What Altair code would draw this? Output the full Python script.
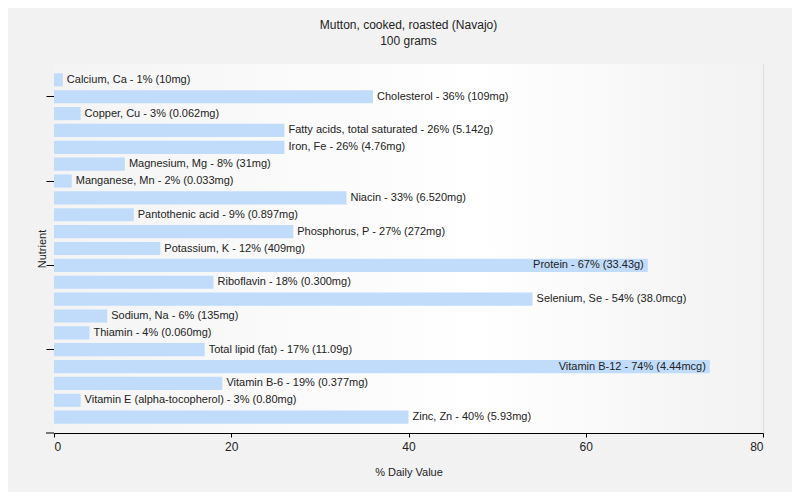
import altair as alt
import pandas as pd

nutrients = [
    "Calcium, Ca", "Cholesterol", "Copper, Cu", "Fatty acids, total saturated",
    "Iron, Fe", "Magnesium, Mg", "Manganese, Mn", "Niacin", "Pantothenic acid",
    "Phosphorus, P", "Potassium, K", "Protein", "Riboflavin", "Selenium, Se",
    "Sodium, Na", "Thiamin", "Total lipid (fat)", "Vitamin B-12", "Vitamin B-6",
    "Vitamin E (alpha-tocopherol)", "Zinc, Zn",
]
daily_pct = [1, 36, 3, 26, 26, 8, 2, 33, 9, 27, 12, 67, 18, 54, 6, 4, 17, 74, 19, 3, 40]
amounts = [
    "10mg", "109mg", "0.062mg", "5.142g", "4.76mg", "31mg", "0.033mg", "6.520mg",
    "0.897mg", "272mg", "409mg", "33.43g", "0.300mg", "38.0mcg", "135mg", "0.060mg",
    "11.09g", "4.44mcg", "0.377mg", "0.80mg", "5.93mg",
]
tick_rows = ["Cholesterol", "Manganese, Mn", "Protein", "Total lipid (fat)"]
x_ticks = [0, 20, 40, 60, 80]

df = pd.DataFrame({"nutrient": nutrients, "pct": daily_pct, "amount": amounts})
df["label"] = df["nutrient"] + " - " + df["pct"].astype(str) + "% (" + df["amount"] + ")"

FONT = "Liberation Sans"
W, H = 709, 369

y_enc = alt.Y(
    "nutrient:N", sort=nutrients, title="Nutrient",
    scale=alt.Scale(paddingInner=0.22, paddingOuter=0.55),
    axis=alt.Axis(values=tick_rows, labels=False, tickSize=8, domainColor="#000",
                  tickColor="#000", titleFont=FONT, titleFontSize=11,
                  titleFontWeight="normal", titleColor="#222",
                  titleAngle=-90, titleX=-12, titleY=H / 2,
                  titleAlign="center", titleBaseline="middle"),
)
x_enc = alt.X(
    "pct:Q", title="% Daily Value",
    scale=alt.Scale(domain=[0, 80], nice=False),
    axis=alt.Axis(values=x_ticks, grid=True, gridColor="#dddddd", domainColor="#000",
                  tickColor="#000", tickSize=4, labelFont=FONT, labelFontSize=12,
                  labelColor="#222", labelPadding=4, titleFont=FONT, titleFontSize=11,
                  titleFontWeight="normal", titleColor="#222", titlePadding=14),
)

bg = alt.Chart(pd.DataFrame({"a": [0]})).mark_rect(
    color=alt.LinearGradient(gradient="linear", x1=0, x2=1, y1=0, y2=0,
                             stops=[alt.GradientStop(offset=0, color="#f4f4f4"),
                                    alt.GradientStop(offset=0.6, color="#ffffff"),
                                    alt.GradientStop(offset=1, color="#f2f2f2")])
).encode(x=alt.value(0), x2=alt.value(W), y=alt.value(0), y2=alt.value(H))

base = alt.Chart(df)
bars = base.mark_bar(color="#c0dcfa").encode(x=x_enc, y=y_enc)
text_out = base.transform_filter("datum.pct <= 60").mark_text(
    align="left", baseline="middle", dx=4, font=FONT, fontSize=11, color="#222"
).encode(x="pct:Q", y=alt.Y("nutrient:N", sort=nutrients), text="label:N")
text_in = base.transform_filter("datum.pct > 60").mark_text(
    align="right", baseline="middle", dx=-4, font=FONT, fontSize=11, color="#222"
).encode(x="pct:Q", y=alt.Y("nutrient:N", sort=nutrients), text="label:N")
corner = alt.Chart(pd.DataFrame({"a": [0]})).mark_rule(color="#000").encode(
    x=alt.value(-8), x2=alt.value(0), y=alt.value(H)
)

chart = alt.layer(bg, bars, text_out, text_in, corner).properties(
    width=W, height=H,
    title=alt.Title("Mutton, cooked, roasted (Navajo)", subtitle="100 grams",
                    font=FONT, fontSize=12, fontWeight="normal", color="#222",
                    subtitleFont=FONT, subtitleFontSize=12, subtitleColor="#222",
                    anchor="middle", offset=16, subtitlePadding=4),
    autosize=alt.AutoSizeParams(type="none"),
    padding={"left": 46, "top": 56, "right": 29, "bottom": 59},
    background="#f2f2f2",
).configure_view(stroke=None)

chart.save("out.html", embed_options={"renderer": "svg", "actions": False})
